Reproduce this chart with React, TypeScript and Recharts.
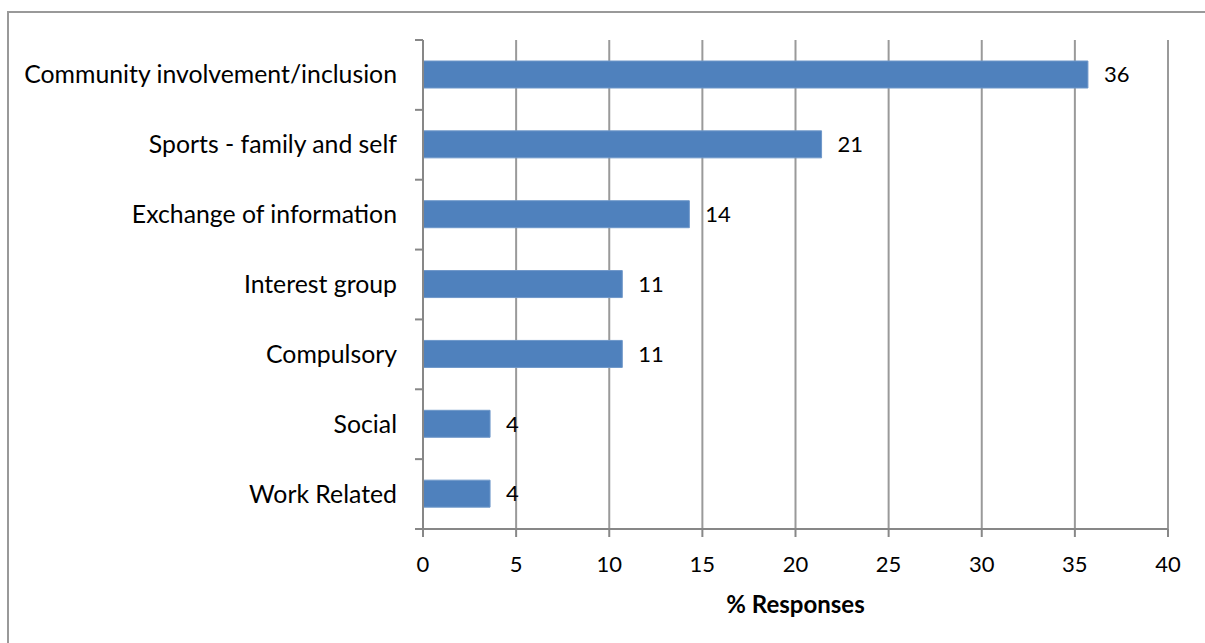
import React from "react";
import { BarChart, Bar, XAxis, YAxis, CartesianGrid, LabelList } from "recharts";

const categories = [
  "Community involvement/inclusion",
  "Sports - family and self",
  "Exchange of information",
  "Interest group",
  "Compulsory",
  "Social",
  "Work Related",
];
const responses = [35.7, 21.4, 14.3, 10.7, 10.7, 3.6, 3.6];
const xTicks = [0, 5, 10, 15, 20, 25, 30, 35, 40];

const data = categories.map((c, i) => ({ name: c, value: responses[i] }));

const W = 1205;
const H = 643;
const M = { top: 40, right: 37, bottom: 34, left: 23 };
const Y_W = 400;
const X_H = 80;
const AXIS_X = M.left + Y_W;
const PLOT_H = H - M.top - M.bottom - X_H;
const BAND = PLOT_H / categories.length;
const FONT = "Lato, 'Open Sans', sans-serif";
const AXIS_COLOR = "#878787";

const CatTick = (props: any) => {
  const { x, y, payload, index } = props;
  const c = payload.coordinate;
  return (
    <g>
      <line x1={AXIS_X - 8} x2={AXIS_X} y1={c - BAND / 2} y2={c - BAND / 2} stroke={AXIS_COLOR} strokeWidth={2} />
      {index === categories.length - 1 && (
        <line x1={AXIS_X - 8} x2={AXIS_X} y1={c + BAND / 2} y2={c + BAND / 2} stroke={AXIS_COLOR} strokeWidth={2} />
      )}
      <text x={x} y={y} dy="0.34em" textAnchor="end" fontSize={24.8} fontFamily={FONT} fill="#000">
        {payload.value}
      </text>
    </g>
  );
};

export default function App() {
  return (
    <div style={{ position: "absolute", left: 0, top: 0, width: W, height: H, background: "#fff" }}>
      <div
        style={{
          position: "absolute",
          left: 7,
          top: 11,
          right: -10,
          bottom: -10,
          borderLeft: "2px solid #999",
          borderTop: "2px solid #999",
        }}
      />
      <BarChart
        width={W}
        height={H}
        data={data}
        layout="vertical"
        margin={M}
        barSize={27}
        style={{ position: "absolute", left: 0, top: 0 }}
      >
        <CartesianGrid horizontal={false} vertical={true} stroke="#9a9a9a" strokeWidth={2} />
        <XAxis
          type="number"
          domain={[0, 40]}
          ticks={xTicks}
          interval={0}
          height={X_H}
          tickSize={8}
          tickMargin={19}
          stroke={AXIS_COLOR}
          strokeWidth={2}
          tick={{ fontSize: 22, fontFamily: FONT, fill: "#000" }}
          label={{
            value: "% Responses",
            position: "insideBottom",
            offset: -4,
            style: { fontSize: 24, fontWeight: "bold", fontFamily: FONT, fill: "#000" },
          }}
        />
        <YAxis
          type="category"
          dataKey="name"
          width={Y_W}
          tickLine={false}
          tickSize={8}
          tickMargin={18}
          stroke={AXIS_COLOR}
          strokeWidth={2}
          tick={<CatTick />}
          interval={0}
        />
        <Bar dataKey="value" fill="#4F81BD" stroke="#6E97C9" strokeWidth={1} isAnimationActive={false}>
          <LabelList
            dataKey="value"
            position="right"
            offset={16}
            formatter={(v: any) => Math.round(Number(v))}
            style={{ fontSize: 22, fontFamily: FONT, fill: "#000" }}
          />
        </Bar>
      </BarChart>
    </div>
  );
}
